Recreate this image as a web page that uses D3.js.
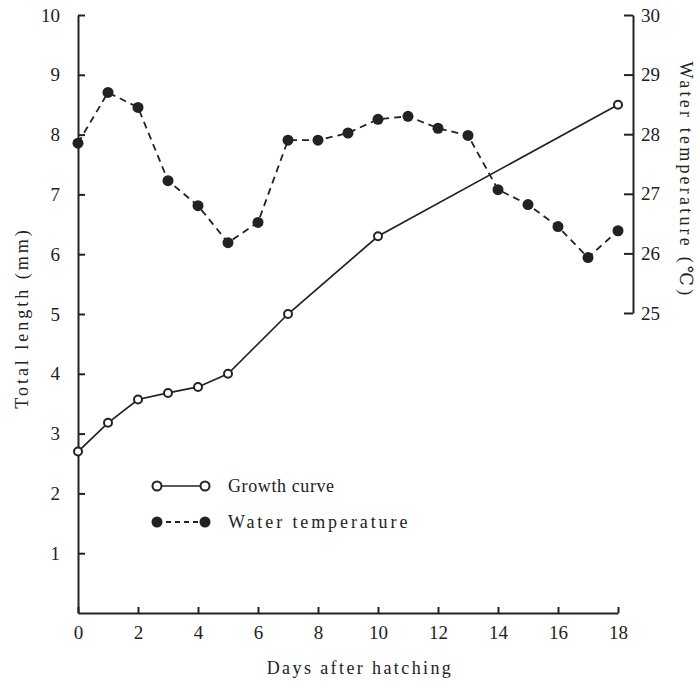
<!DOCTYPE html>
<html>
<head>
<meta charset="utf-8">
<script src="https://cdn.jsdelivr.net/npm/d3@7"></script>
<style>
  body { margin: 0; background: #fff; }
  svg text { font-family: "Liberation Serif", "DejaVu Serif", serif; fill: #222; }
  .axis path, .axis line { stroke: #222; stroke-width: 2; }
  .axis text { font-size: 19px; }
</style>
</head>
<body>
<div id="chart"></div>
<script>
// data
const tempDays = [0, 1, 2, 3, 4, 5, 6, 7, 8, 9, 10, 11, 12, 13, 14, 15, 16, 17, 18];
const temperature = [27.85, 28.7, 28.45, 27.22, 26.8, 26.18, 26.52, 27.9, 27.9, 28.02,
                     28.25, 28.3, 28.1, 27.98, 27.07, 26.82, 26.45, 25.93, 26.38];
const growthDays = [0, 1, 2, 3, 4, 5, 7, 10, 18];
const growthLength = [2.7, 3.18, 3.57, 3.68, 3.78, 4.0, 5.0, 6.3, 8.5];
const dayTicks = [0, 2, 4, 6, 8, 10, 12, 14, 16, 18];
const lengthTicks = [1, 2, 3, 4, 5, 6, 7, 8, 9, 10];
const tempTicks = [25, 26, 27, 28, 29, 30];

const w = 699, h = 682;
const ink = "#222";

const svg = d3.select("#chart").append("svg")
  .attr("width", w)
  .attr("height", h);

const x = d3.scaleLinear().domain([0, 18]).range([78, 618]);
const y = d3.scaleLinear().domain([0, 10]).range([613, 15]);
const yT = d3.scaleLinear().domain([25, 30]).range([313, 15]);
const rightX = 633;

// axes
svg.append("g")
  .attr("class", "axis")
  .attr("transform", `translate(${x(0)},0)`)
  .call(d3.axisLeft(y).tickValues(lengthTicks).tickFormat(d3.format("d"))
    .tickSize(-7).tickSizeOuter(0).tickPadding(18));

svg.append("g")
  .attr("class", "axis")
  .attr("transform", `translate(0,${y(0)})`)
  .call(d3.axisBottom(x).tickValues(dayTicks).tickFormat(d3.format("d"))
    .tickSize(-6).tickSizeOuter(0).tickPadding(13));

svg.append("g")
  .attr("class", "axis")
  .attr("transform", `translate(${rightX},0)`)
  .call(d3.axisRight(yT).tickValues(tempTicks).tickFormat(d3.format("d"))
    .tickSize(-9).tickSizeOuter(0).tickPadding(8));

// axis titles
svg.append("text")
  .attr("x", 360).attr("y", 674)
  .attr("text-anchor", "middle")
  .style("font-size", "18px")
  .style("letter-spacing", "2.4px")
  .text("Days after hatching");

svg.append("text")
  .attr("transform", "translate(28,318) rotate(-90)")
  .attr("text-anchor", "middle")
  .style("font-size", "18px")
  .style("letter-spacing", "3px")
  .text("Total length (mm)");

svg.append("text")
  .attr("transform", "translate(680,180) rotate(90)")
  .attr("text-anchor", "middle")
  .style("font-size", "18px")
  .style("letter-spacing", "3.2px")
  .text("Water temperature (\u2103)");

// temperature series
const tempData = tempDays.map((d, i) => ({ d: d, v: temperature[i] }));
svg.append("path")
  .datum(tempData)
  .attr("fill", "none")
  .attr("stroke", ink)
  .attr("stroke-width", 1.8)
  .attr("stroke-dasharray", "7,5")
  .attr("d", d3.line().x(p => x(p.d)).y(p => yT(p.v)));

svg.selectAll(".tempDot")
  .data(tempData)
  .enter().append("circle")
  .attr("class", "tempDot")
  .attr("cx", p => x(p.d))
  .attr("cy", p => yT(p.v))
  .attr("r", 5.5)
  .style("fill", ink);

// growth series
const growthData = growthDays.map((d, i) => ({ d: d, v: growthLength[i] }));
svg.append("path")
  .datum(growthData)
  .attr("fill", "none")
  .attr("stroke", ink)
  .attr("stroke-width", 1.7)
  .attr("d", d3.line().x(p => x(p.d)).y(p => y(p.v)));

svg.selectAll(".growDot")
  .data(growthData)
  .enter().append("circle")
  .attr("class", "growDot")
  .attr("cx", p => x(p.d))
  .attr("cy", p => y(p.v))
  .attr("r", 4)
  .style("fill", "#fff")
  .style("stroke", ink)
  .style("stroke-width", 2);

// legend
const legend = svg.append("g").attr("transform", "translate(157,0)");

legend.append("line")
  .attr("x1", 0).attr("x2", 48).attr("y1", 486).attr("y2", 486)
  .attr("stroke", ink).attr("stroke-width", 1.7);
legend.selectAll(".lgOpen")
  .data([0, 48])
  .enter().append("circle")
  .attr("cx", d => d).attr("cy", 486).attr("r", 4.5)
  .style("fill", "#fff").style("stroke", ink).style("stroke-width", 2);
legend.append("text")
  .attr("x", 71).attr("y", 492)
  .style("font-size", "18px")
  .style("letter-spacing", "0.6px")
  .text("Growth curve");

legend.append("line")
  .attr("x1", 0).attr("x2", 48).attr("y1", 522).attr("y2", 522)
  .attr("stroke", ink).attr("stroke-width", 1.8)
  .attr("stroke-dasharray", "5,4");
legend.selectAll(".lgFill")
  .data([0, 48])
  .enter().append("circle")
  .attr("cx", d => d).attr("cy", 522).attr("r", 5.5)
  .style("fill", ink);
legend.append("text")
  .attr("x", 71).attr("y", 528)
  .style("font-size", "18px")
  .style("letter-spacing", "2.9px")
  .text("Water temperature");
</script>
</body>
</html>
